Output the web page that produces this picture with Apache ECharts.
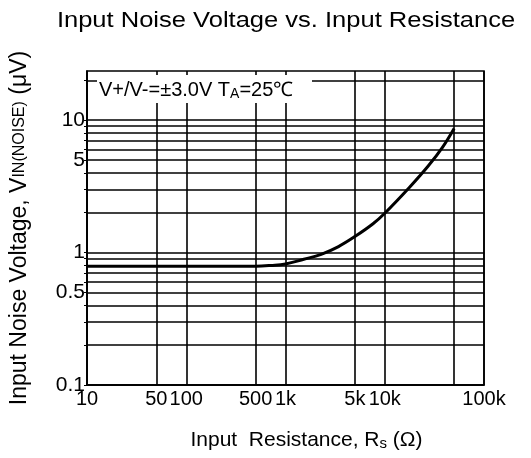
<!DOCTYPE html>
<html>
<head>
<meta charset="utf-8">
<script src="https://cdn.jsdelivr.net/npm/echarts@6/dist/echarts.min.js"></script>
<style>
html,body{margin:0;padding:0;background:#fff;}
#c{width:531px;height:458px;}
</style>
</head>
<body>
<div id="c"></div>
<script>
// Data
var resistance = [10, 100, 500, 714, 1000, 1530, 2290, 3420, 5000, 7620, 10000, 17700, 27400, 38000, 50000];
var noiseVoltage = [0.79, 0.79, 0.79, 0.80, 0.82, 0.89, 0.97, 1.11, 1.32, 1.65, 1.98, 3.1, 4.5, 6.2, 8.65];

var xTickValues = [10, 50, 100, 500, 1000, 5000, 10000, 50000, 100000];
var xGridValues = [10, 50, 100, 500, 1000, 5000, 10000, 50000, 100000];
var yTickValues = [0.1, 0.5, 1, 5, 10];
var yGridValues = [0.1, 0.2, 0.3, 0.4, 0.5, 0.6, 0.7, 0.8, 0.9, 1, 2, 3, 4, 5, 6, 7, 8, 9, 10, 20];

var FONT = "'Liberation Sans', Arial, sans-serif";
var chart = echarts.init(document.getElementById('c'), null, {renderer: 'canvas'});

var points = resistance.map(function (r, i) { return [r, noiseVoltage[i]]; });

chart.setOption({
  animation: false,
  backgroundColor: '#fff',
  grid: {
    left: 87, right: 47, top: 71, bottom: 73,
    show: true, borderColor: '#000', borderWidth: 1.6, backgroundColor: 'transparent'
  },
  xAxis: {
    type: 'log', logBase: 10, min: 10, max: 100000,
    name: 'Input  Resistance, R{s|s} (Ω)',
    nameLocation: 'middle', nameGap: 45,
    nameTextStyle: {
      color: '#000', fontSize: 21, fontFamily: FONT, padding: [0, 0, 0, 42],
      rich: { s: { fontSize: 15, fontFamily: FONT, color: '#000', verticalAlign: 'bottom' } }
    },
    axisLine: { show: true, lineStyle: { color: '#000', width: 1.6 } },
    axisTick: { show: false, customValues: xGridValues },
    splitLine: { show: true, lineStyle: { color: '#000', width: 1.6 } },
    minorTick: { show: false }, minorSplitLine: { show: false },
    axisLabel: {
      customValues: xTickValues,
      showMinLabel: true, showMaxLabel: true, hideOverlap: false,
      color: '#000', fontSize: 20, fontFamily: FONT, margin: 4,
      formatter: function (v) { return v >= 1000 ? (v / 1000) + 'k' : String(v); }
    }
  },
  yAxis: {
    type: 'log', logBase: 10, min: 0.1, max: 23.5,
    name: 'Input Noise Voltage, V{s|IN(NOISE)} (μV)',
    nameLocation: 'middle', nameGap: 56, nameRotate: 90,
    nameTextStyle: {
      color: '#000', fontSize: 23, fontFamily: FONT,
      rich: { s: { fontSize: 16, fontFamily: FONT, color: '#000' } }
    },
    axisLine: { show: true, lineStyle: { color: '#000', width: 1.6 } },
    axisTick: { show: true, length: 3, customValues: yGridValues, lineStyle: { color: '#000', width: 1 } },
    splitLine: { show: true, lineStyle: { color: '#000', width: 1.6 } },
    minorTick: { show: false }, minorSplitLine: { show: false },
    axisLabel: {
      customValues: yTickValues,
      showMinLabel: true, showMaxLabel: true, hideOverlap: false,
      color: '#000', fontSize: 21, fontFamily: FONT, margin: 2,
      formatter: function (v) { return String(v); }
    }
  },
  series: [{
    type: 'line',
    data: points,
    smooth: 0.4,
    showSymbol: false,
    symbol: 'none',
    lineStyle: { color: '#000', width: 3 },
    z: 5
  }],
  graphic: [
    {
      type: 'text', x: 286, y: 21, scaleX: 1.16,
      style: {
        text: 'Input Noise Voltage vs. Input Resistance',
        fill: '#000', font: '22px ' + FONT,
        textAlign: 'center', textVerticalAlign: 'middle'
      }
    },
    {
      type: 'rect', z: 100,
      shape: { x: 97, y: 75, width: 215, height: 28 },
      style: { fill: '#fff' }
    },
    {
      type: 'text', z: 101, x: 99, y: 90,
      style: {
        text: 'V+/V-=±3.0V T{s|A}=25℃',
        fill: '#000', font: '20px ' + FONT,
        textVerticalAlign: 'middle',
        rich: { s: { fontSize: 14, fontFamily: FONT, fill: '#000', verticalAlign: 'bottom', padding: [8, 0, 0, 0] } }
      }
    }
  ]
});
</script>
</body>
</html>
